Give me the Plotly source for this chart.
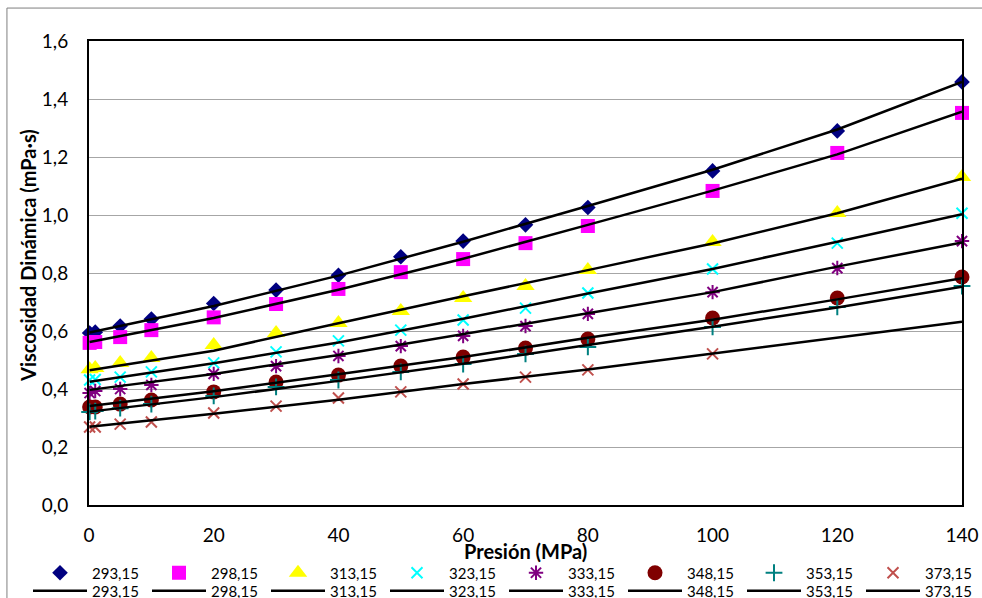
import plotly.graph_objects as go

# ---------------- data ----------------
pressure = [0.1, 1, 5, 10, 20, 30, 40, 50, 60, 70, 80, 100, 120, 140]
pressure_373 = [0.1, 1, 5, 10, 20, 30, 40, 50, 60, 70, 80, 100]

temps = ["293,15", "298,15", "313,15", "323,15", "333,15", "348,15", "353,15", "373,15"]

v293 = [0.593, 0.596, 0.617, 0.641, 0.695, 0.741, 0.792, 0.856, 0.910, 0.966, 1.026, 1.152, 1.290, 1.459]
v298 = [0.559, 0.562, 0.579, 0.603, 0.647, 0.693, 0.745, 0.803, 0.848, 0.903, 0.962, 1.083, 1.214, 1.352]
v313 = [0.468, 0.472, 0.490, 0.507, 0.552, 0.593, 0.628, 0.669, 0.714, 0.755, 0.810, 0.907, 1.007, 1.131]
v323 = [0.431, 0.433, 0.441, 0.459, 0.490, 0.528, 0.566, 0.603, 0.638, 0.679, 0.731, 0.814, 0.903, 1.006]
v333 = [0.386, 0.393, 0.400, 0.414, 0.452, 0.479, 0.514, 0.548, 0.583, 0.617, 0.659, 0.734, 0.817, 0.910]
v348 = [0.338, 0.338, 0.348, 0.362, 0.390, 0.424, 0.448, 0.479, 0.510, 0.541, 0.572, 0.645, 0.714, 0.786]
v353 = [0.321, 0.324, 0.334, 0.348, 0.376, 0.407, 0.431, 0.459, 0.486, 0.521, 0.545, 0.614, 0.683, 0.755]
v373 = [0.269, 0.269, 0.279, 0.286, 0.317, 0.341, 0.369, 0.390, 0.417, 0.441, 0.466, 0.521]

# fitted model curves
fit_pressure = [0.1, 20, 40, 60, 80, 100, 120, 140]
f293 = [0.595, 0.686, 0.791, 0.908, 1.031, 1.156, 1.295, 1.459]
f298 = [0.562, 0.645, 0.742, 0.849, 0.966, 1.084, 1.209, 1.356]
f313 = [0.465, 0.532, 0.627, 0.720, 0.810, 0.902, 1.006, 1.125]
f323 = [0.425, 0.489, 0.560, 0.642, 0.729, 0.814, 0.908, 1.003]
f333 = [0.397, 0.452, 0.517, 0.588, 0.661, 0.734, 0.822, 0.905]
f348 = [0.341, 0.392, 0.451, 0.510, 0.577, 0.639, 0.709, 0.782]
f353 = [0.322, 0.372, 0.428, 0.487, 0.552, 0.615, 0.681, 0.753]
f373 = [0.270, 0.315, 0.363, 0.417, 0.467, 0.522, 0.575, 0.632]

x_ticks = [0, 20, 40, 60, 80, 100, 120, 140]
y_ticks = [0.0, 0.2, 0.4, 0.6, 0.8, 1.0, 1.2, 1.4, 1.6]

x_title = "Presión (MPa)"
y_title = "Viscosidad Dinámica (mPa·s)"

# ---------------- styles ----------------
FONT = "Lato, Carlito, Calibri, sans-serif"
marker_styles = [
    dict(symbol="diamond", size=12, color="#000080"),
    dict(symbol="square", size=14, color="#FF00FF"),
    dict(symbol="triangle-up", size=16, color="#FFFF00"),
    dict(symbol="x-thin-open", size=11, color="#00FFFF", line=dict(width=2, color="#00FFFF")),
    dict(symbol="asterisk-open", size=12, color="#800080", line=dict(width=2, color="#800080")),
    dict(symbol="circle", size=15, color="#800000"),
    dict(symbol="cross-thin-open", size=12, color="#008080", line=dict(width=2, color="#008080")),
    dict(symbol="x-thin-open", size=11, color="#C0504D", line=dict(width=2, color="#C0504D")),
]

meas = [(pressure, v293), (pressure, v298), (pressure, v313), (pressure, v323),
        (pressure, v333), (pressure, v348), (pressure, v353), (pressure_373, v373)]
fits = [f293, f298, f313, f323, f333, f348, f353, f373]

fig = go.Figure()
for name, (px, py), ms in zip(temps, meas, marker_styles):
    fig.add_trace(go.Scatter(x=px, y=py, mode="markers", name=name, marker=ms,
                             legend="legend", cliponaxis=False))
for name, fy in zip(temps, fits):
    fig.add_trace(go.Scatter(x=fit_pressure, y=fy, mode="lines", name=name,
                             line=dict(color="black", width=2.5), legend="legend2"))

axis_font = dict(family=FONT, size=19, color="black")
legend_common = dict(orientation="h", x=(28 - 89) / 873, xanchor="left", yanchor="middle",
                     entrywidth=50, font=dict(family=FONT, size=15, color="black"),
                     bgcolor="rgba(0,0,0,0)", tracegroupgap=0, itemwidth=54, borderwidth=0)
fig.update_layout(
    width=982, height=598,
    margin=dict(l=89, r=20, t=41, b=93, autoexpand=False),
    paper_bgcolor="white", plot_bgcolor="white",
    separators=", ",
    font=dict(family=FONT, size=15, color="black"),
    xaxis=dict(range=[0, 140], tickvals=x_ticks, showgrid=False, zeroline=False,
               showline=True, linecolor="black", linewidth=2, mirror=True,
               ticks="", tickfont=axis_font, ticklabelstandoff=12, automargin=False),
    yaxis=dict(range=[0, 1.6], tickvals=y_ticks, tickformat=".1f", showgrid=True,
               gridcolor="#A6A6A6", gridwidth=1, zeroline=False,
               showline=True, linecolor="black", linewidth=2, mirror=True,
               ticks="", tickfont=axis_font, ticklabelstandoff=15, automargin=False),
    legend=dict(y=(505 - 573) / 464, **legend_common),
    legend2=dict(y=(505 - 591) / 464, **legend_common),
    showlegend=True,
    annotations=[
        dict(text="<b>" + x_title + "</b>", xref="paper", yref="paper",
             x=(525 - 89) / 873, y=(505 - 551) / 464, xanchor="center", yanchor="middle",
             showarrow=False, font=dict(family=FONT, size=20, color="black")),
        dict(text="<b>" + y_title + "</b>", xref="paper", yref="paper",
             x=(28 - 89) / 873, y=(505 - 256) / 464, xanchor="center", yanchor="middle",
             textangle=-90, showarrow=False, font=dict(family=FONT, size=20, color="black")),
    ],
    shapes=[dict(type="rect", xref="paper", yref="paper", x0=-0.094, x1=1.2, y0=-0.5, y1=1.071,
                 line=dict(color="#7F7F7F", width=1), fillcolor="rgba(0,0,0,0)", layer="below")],
)

fig.write_html("out.html", config={"displayModeBar": False},
               post_script="document.body.style.margin='0';document.body.style.overflow='hidden';")
